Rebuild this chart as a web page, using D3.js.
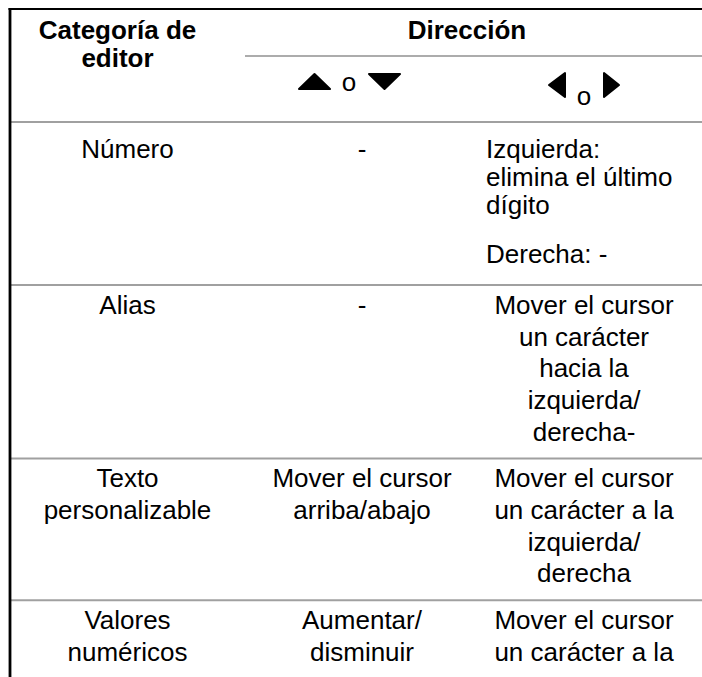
<!DOCTYPE html>
<html>
<head>
<meta charset="utf-8">
<script src="https://cdn.jsdelivr.net/npm/d3@7"></script>
<style>
  html, body { margin: 0; padding: 0; background: #fff; }
  svg { display: block; }
  text { font-family: "Liberation Sans", Arial, sans-serif; fill: #000; }
</style>
</head>
<body>
<svg id="chart" width="702" height="677"></svg>
<script>
// ---- data ----
const headerCategory = ["Categoría de", "editor"];
const headerDirection = "Dirección";
const headerUpDown = "o";
const headerLeftRight = "o";
const categories = [["Número"], ["Alias"], ["Texto", "personalizable"], ["Valores", "numéricos"]];
const upDownActions = [["-"], ["-"], ["Mover el cursor", "arriba/abajo"], ["Aumentar/", "disminuir"]];
const leftRightActions = [
  [["Izquierda:", "elimina el último", "dígito"], ["Derecha: -"]],
  [["Mover el cursor", "un carácter", "hacia la", "izquierda/", "derecha-"]],
  [["Mover el cursor", "un carácter a la", "izquierda/", "derecha"]],
  [["Mover el cursor", "un carácter a la"]]
];
const leftRightAlign = ["start", "middle", "middle", "middle"];

// ---- layout (styles / spacing only) ----
const W = 702, H = 677;
const fs = 26;
const rowStyle = [
  { lh: 28, padTop: 13, padBottom: 17, paraGap: 21 },
  { lh: 31.7, padTop: 4, padBottom: 11, paraGap: 21 },
  { lh: 31.7, padTop: 4, padBottom: 11, paraGap: 21 },
  { lh: 31.7, padTop: 4, padBottom: 11, paraGap: 21 }
];
const baseOffset = lh => (lh - 1.117 * fs) / 2 + 0.905 * fs;
const svg = d3.select("#chart");

const colX = d3.scaleOrdinal().domain([0, 1, 2, 3]).range([10, 245, 479, 689]);
const colCenter = i => (colX(i) + colX(i + 1)) / 2;

const headTop = 9, headMid = 56, headBottom = 122;

// body rows
const rows = categories.map((c, i) => {
  const st = rowStyle[i];
  const paras = leftRightActions[i];
  const nLines3 = d3.sum(paras, p => p.length);
  const h3 = nLines3 * st.lh + (paras.length - 1) * st.paraGap;
  const h = Math.max(c.length * st.lh, upDownActions[i].length * st.lh, h3);
  return { i, h: st.padTop + h + st.padBottom };
});
let yAcc = headBottom;
rows.forEach(r => { r.y0 = yAcc; yAcc += r.h; r.y1 = yAcc; });
const yRow = d3.scaleOrdinal().domain(rows.map(r => r.i)).range(rows.map(r => r.y0));

// ---- lines ----
const g = svg.append("g");
g.selectAll("line.sep").data(rows).join("line")
  .attr("x1", 11).attr("x2", W)
  .attr("y1", d => d.y0).attr("y2", d => d.y0)
  .attr("stroke", "#a0a0a0").attr("stroke-width", 2);
g.append("line").attr("x1", colX(1)).attr("x2", W).attr("y1", headMid).attr("y2", headMid)
  .attr("stroke", "#909090").attr("stroke-width", 1.6);
g.append("line").attr("x1", 8.5).attr("x2", W).attr("y1", headTop).attr("y2", headTop)
  .attr("stroke", "#000").attr("stroke-width", 2.2);
g.append("line").attr("x1", 10).attr("x2", 10).attr("y1", 8).attr("y2", H)
  .attr("stroke", "#000").attr("stroke-width", 2.8);

// ---- text helper ----
function lines(sel, arr, x, top, anchor, lh, weight) {
  sel.selectAll(null).data(arr).join("text")
    .attr("x", x).attr("y", (d, k) => top + k * lh + baseOffset(lh))
    .attr("text-anchor", anchor)
    .attr("font-size", fs)
    .attr("font-weight", weight || "normal")
    .text(d => d);
}

// header text
const headLh = 28;
lines(svg, headerCategory, colCenter(0) - 10, headTop + 30 - baseOffset(headLh), "middle", headLh, "bold");
lines(svg, [headerDirection], (colX(1) + colX(3)) / 2, headTop + 30 - baseOffset(headLh), "middle", headLh, "bold");

// arrows
const arrows = svg.append("g").attr("fill", "#000").attr("stroke", "#000")
  .attr("stroke-width", 2).attr("stroke-linejoin", "round");
const ux = colCenter(1) - 13;
arrows.append("path").attr("d", `M${ux - 50},89 L${ux - 34.5},74 L${ux - 19},89 Z`);
arrows.append("path").attr("d", `M${ux + 20},74 L${ux + 51},74 L${ux + 35.5},89 Z`);
svg.append("text").attr("x", ux).attr("y", 90.5).attr("text-anchor", "middle").attr("font-size", fs).text(headerUpDown);

const lx = colCenter(2);
arrows.append("path").attr("d", `M${lx - 19},73 L${lx - 19},97 L${lx - 35},85 Z`);
arrows.append("path").attr("d", `M${lx + 20},73 L${lx + 20},97 L${lx + 35},85 Z`);
svg.append("text").attr("x", lx).attr("y", 105).attr("text-anchor", "middle").attr("font-size", fs).text(headerLeftRight);

// ---- body text ----
rows.forEach(r => {
  const st = rowStyle[r.i];
  const top = yRow(r.i) + st.padTop;
  lines(svg, categories[r.i], colCenter(0), top, "middle", st.lh);
  lines(svg, upDownActions[r.i], colCenter(1), top, "middle", st.lh);
  let t = top;
  const anchor = leftRightAlign[r.i];
  const x3 = anchor === "start" ? colX(2) + 7 : colCenter(2);
  leftRightActions[r.i].forEach(p => {
    lines(svg, p, x3, t, anchor, st.lh);
    t += p.length * st.lh + st.paraGap;
  });
});
</script>
</body>
</html>
